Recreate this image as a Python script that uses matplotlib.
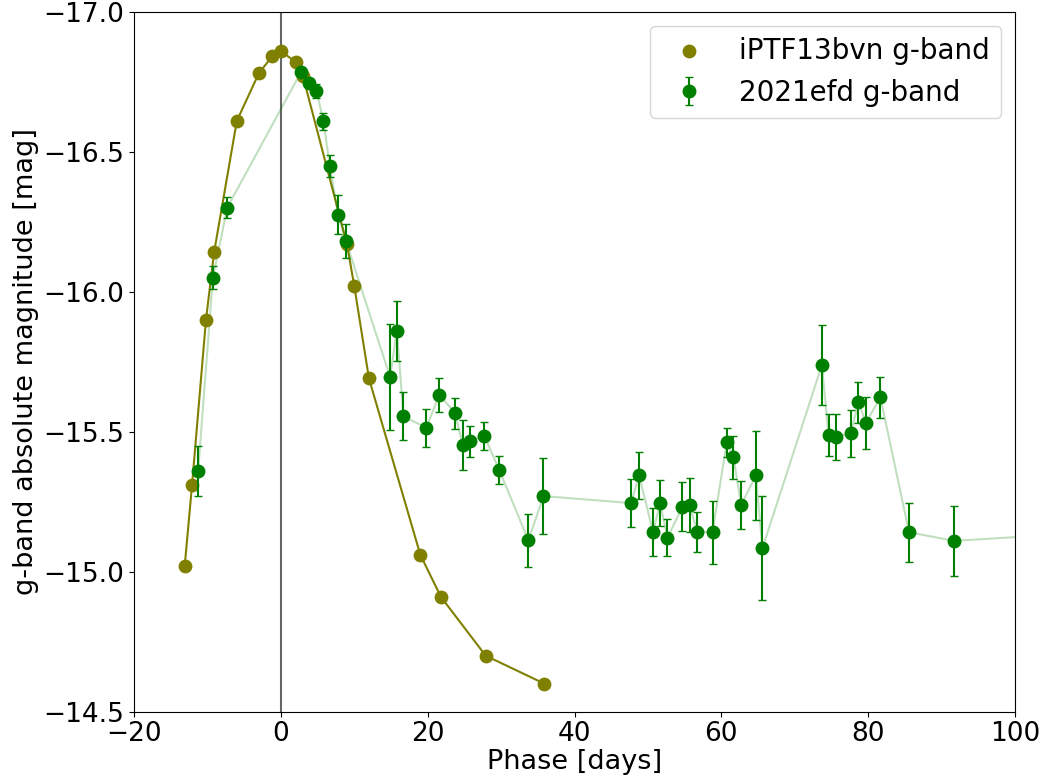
import matplotlib
matplotlib.use("Agg")
import matplotlib.pyplot as plt
import numpy as np

# iPTF13bvn g-band
bvn_phase = [-13.1, -12.1, -10.2, -9.1, -6.0, -3.0, -1.2, 0.0, 2.0, 3.0,
             9.0, 10.0, 12.0, 19.0, 21.8, 27.9, 35.9]
bvn_mag = [-15.02, -15.31, -15.90, -16.14, -16.61, -16.78, -16.84, -16.86, -16.82, -16.77,
           -16.17, -16.02, -15.69, -15.06, -14.91, -14.70, -14.60]

# 2021efd g-band
efd_phase = [-11.27, -9.26, -7.31, 2.76, 3.8, 4.85, 5.8, 6.67, 7.8, 8.85,
             14.88, 15.8, 16.7, 19.8, 21.6, 23.74, 24.78, 25.78, 27.73, 29.73,
             33.72, 35.77, 47.7, 48.8, 50.7, 51.66, 52.66, 54.7, 55.7, 56.7,
             58.8, 60.74, 61.65, 62.7, 64.7, 65.6, 73.7, 74.6, 75.66, 77.66,
             78.66, 79.7, 81.66, 85.57, 91.7, 106.0]
efd_mag = [-15.36, -16.05, -16.30, -16.785, -16.745, -16.716, -16.609, -16.448, -16.275, -16.182,
           -15.695, -15.861, -15.555, -15.514, -15.632, -15.566, -15.451, -15.466, -15.485, -15.364,
           -15.112, -15.270, -15.245, -15.344, -15.141, -15.245, -15.121, -15.232, -15.238, -15.143,
           -15.141, -15.462, -15.409, -15.238, -15.344, -15.084, -15.738, -15.489, -15.482, -15.495,
           -15.605, -15.532, -15.623, -15.141, -15.110, -15.133]
efd_err = [0.09, 0.04, 0.038, 0.01, 0.01, 0.026, 0.03, 0.04, 0.07, 0.06,
           0.19, 0.107, 0.086, 0.067, 0.06, 0.056, 0.089, 0.056, 0.05, 0.05,
           0.095, 0.135, 0.085, 0.085, 0.085, 0.082, 0.066, 0.088, 0.098, 0.071,
           0.112, 0.052, 0.077, 0.086, 0.159, 0.185, 0.143, 0.075, 0.082, 0.084,
           0.074, 0.093, 0.073, 0.105, 0.124, 0.12]

fig = plt.figure(figsize=(10.44, 7.79), dpi=100)
ax = fig.add_axes([0.1284, 0.0864, 0.9722 - 0.1284, 0.985 - 0.0864])

ax.axvline(0, color='black', alpha=0.6, lw=1.5)
ax.plot(bvn_phase, bvn_mag, '-', color='olive', lw=1.5)
ax.scatter(bvn_phase, bvn_mag, color='olive', s=80, zorder=3, label='iPTF13bvn g-band')
ax.plot(efd_phase, efd_mag, '-', color='green', alpha=0.25, lw=1.5)
ax.errorbar(efd_phase, efd_mag, yerr=efd_err, fmt='o', color='green', ms=9,
            capsize=3, elinewidth=1.5, zorder=4, label='2021efd g-band')

ax.set_xlim(-20, 100)
ax.set_ylim(-14.5, -17.0)
ax.set_xlabel('Phase [days]', fontsize=19.5, labelpad=1)
ax.set_ylabel('g-band absolute magnitude [mag]', fontsize=19.5, labelpad=3)
ax.tick_params(labelsize=19)
ax.legend(fontsize=20, loc='upper right')

fig.savefig('out.png', dpi=100)
